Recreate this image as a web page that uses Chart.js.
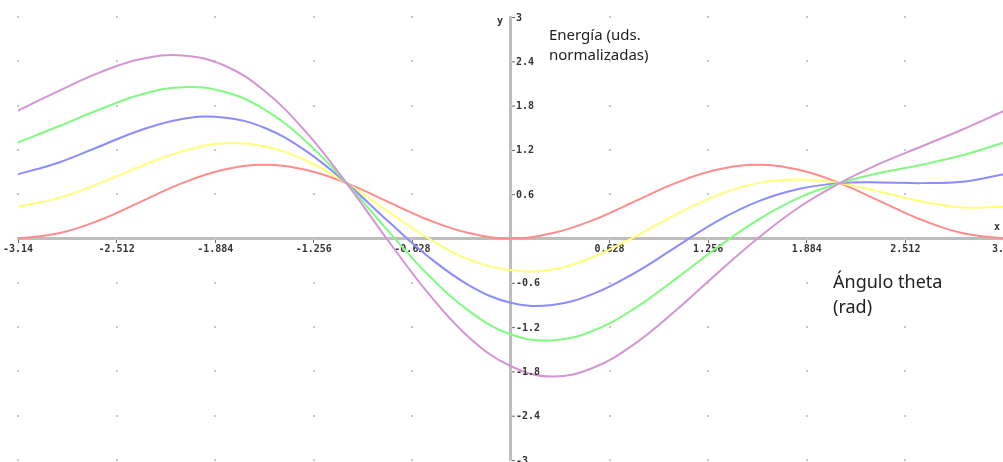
<!DOCTYPE html>
<html>
<head>
<meta charset="utf-8">
<script src="https://cdn.jsdelivr.net/npm/chart.js@4/dist/chart.umd.min.js"></script>
<style>
  html, body { margin: 0; padding: 0; background: #fff; }
  #wrap { position: relative; width: 1003px; height: 462px; overflow: hidden; }
  #energyPlot { position: absolute; left: 0; top: 0; }
  .note { position: absolute; color: #222; font-family: 'Noto Sans', sans-serif; line-height: 1.35; }
  .axisName { position: absolute; font: bold 10px 'DejaVu Sans Mono', monospace; color: #333; }
</style>
</head>
<body>
<div id="wrap">
  <canvas id="energyPlot" width="1018" height="462"></canvas>
  <div class="note" style="left:549px; top:24px; font-size:15px;">Energía (uds.<br>normalizadas)</div>
  <div class="note" style="left:833px; top:269px; font-size:18px; line-height:1.4;">Ángulo theta<br>(rad)</div>
  <div class="axisName" style="left:497px; top:15px;">y</div>
  <div class="axisName" style="left:994px; top:221px;">x</div>
</div>
<script>
// angle theta in rad, every 15 degrees
const theta = [-3.1416, -2.8798, -2.618, -2.3562, -2.0944, -1.8326, -1.5708, -1.309, -1.0472, -0.7854, -0.5236, -0.2618,
  0, 0.2618, 0.5236, 0.7854, 1.0472, 1.309, 1.5708, 1.8326, 2.0944, 2.3562, 2.618, 2.8798, 3.1416]

const redValues = [0, 0.07, 0.25, 0.5, 0.75, 0.93, 1, 0.93, 0.75, 0.5, 0.25, 0.07,
  0, 0.07, 0.25, 0.5, 0.75, 0.93, 1, 0.93, 0.75, 0.5, 0.25, 0.07, 0]
const yellowValues = [0.43, 0.55, 0.75, 0.98, 1.18, 1.29, 1.25, 1.06, 0.75, 0.37, 0, -0.29,
  -0.43, -0.42, -0.25, 0.02, 0.32, 0.58, 0.75, 0.8, 0.75, 0.63, 0.5, 0.42, 0.43]
const blueValues = [0.87, 1.03, 1.25, 1.47, 1.62, 1.64, 1.5, 1.19, 0.75, 0.24, -0.25, -0.64,
  -0.87, -0.9, -0.75, -0.47, -0.12, 0.23, 0.5, 0.67, 0.75, 0.76, 0.75, 0.77, 0.87]
const greenValues = [1.3, 1.52, 1.75, 1.95, 2.05, 1.99, 1.75, 1.32, 0.75, 0.11, -0.5, -0.99,
  -1.3, -1.38, -1.25, -0.95, -0.55, -0.13, 0.25, 0.55, 0.75, 0.89, 1.0, 1.13, 1.3]
const purpleValues = [1.73, 2.0, 2.25, 2.43, 2.48, 2.35, 2.0, 1.45, 0.75, -0.02, -0.75, -1.35,
  -1.73, -1.87, -1.75, -1.43, -0.98, -0.48, 0, 0.42, 0.75, 1.02, 1.25, 1.48, 1.73]

const xTicks = [-3.14, -2.512, -1.884, -1.256, -0.628, 0, 0.628, 1.256, 1.884, 2.512, 3.14]
const yTicks = [-3, -2.4, -1.8, -1.2, -0.6, 0, 0.6, 1.2, 1.8, 2.4, 3]

const toPoints = (values) => values.map((v, i) => ({x: theta[i], y: v}))

const line = (values, color) => ({
    data: toPoints(values),
    borderColor: color,
    borderWidth: 2,
    pointRadius: 0,
    fill: false,
    tension: 0.4
})

// dotted background grid, one dot per tick crossing
const dotGrid = {
    id: 'dotGrid',
    beforeDatasetsDraw(chart) {
        const {ctx, scales: {x, y}} = chart
        ctx.save()
        ctx.fillStyle = '#c8c8c8'
        xTicks.forEach(tx => {
            yTicks.forEach(ty => {
                ctx.fillRect(Math.round(x.getPixelForValue(tx)) - 1, Math.round(y.getPixelForValue(ty)) - 1, 2, 2)
            })
        })
        ctx.restore()
    }
}

// y labels sit on the right side of the centred axis
const yLabels = {
    id: 'yLabels',
    afterDraw(chart) {
        const {ctx, scales: {x, y}} = chart
        const x0 = x.getPixelForValue(0)
        ctx.save()
        ctx.font = 'bold 10px "DejaVu Sans Mono", monospace'
        ctx.textAlign = 'left'
        ctx.textBaseline = 'middle'
        yTicks.forEach(v => {
            if (v === 0) return
            const py = y.getPixelForValue(v)
            ctx.fillStyle = '#666'
            ctx.fillRect(x0 + 1, py, 3, 1)
            ctx.fillStyle = '#333'
            ctx.fillText(String(v), x0 + 5, py + 1)
        })
        ctx.restore()
    }
}

new Chart(document.getElementById('energyPlot'), {
    type: 'line',
    data: {
        datasets: [
            line(purpleValues, 'rgb(210, 150, 210)'),
            line(greenValues, 'rgb(130, 250, 130)'),
            line(blueValues, 'rgb(140, 140, 255)'),
            line(yellowValues, 'rgb(255, 255, 120)'),
            line(redValues, 'rgb(255, 140, 140)')
        ]
    },
    options: {
        responsive: false,
        animation: false,
        layout: {
            autoPadding: false,
            padding: {left: 18, right: 0, top: 17, bottom: 2}
        },
        plugins: {
            legend: {display: false},
            tooltip: {enabled: false}
        },
        scales: {
            x: {
                type: 'linear',
                min: -3.14,
                max: 3.14,
                position: {y: 0},
                afterBuildTicks: axis => { axis.ticks = xTicks.map(v => ({value: v})) },
                grid: {drawOnChartArea: false, drawTicks: true, tickLength: 3, color: '#666'},
                border: {color: '#bdbdbd', width: 3},
                ticks: {
                    padding: 2,
                    color: '#333',
                    font: {family: 'DejaVu Sans Mono', size: 10, weight: 'bold'},
                    maxRotation: 0,
                    autoSkip: false,
                    callback: v => v === 0 ? '' : String(v)
                }
            },
            y: {
                type: 'linear',
                min: -3,
                max: 3,
                position: {x: 0},
                afterBuildTicks: axis => { axis.ticks = yTicks.map(v => ({value: v})) },
                grid: {display: false},
                border: {color: '#bdbdbd', width: 3},
                ticks: {display: false}
            }
        }
    },
    plugins: [dotGrid, yLabels]
})
</script>
</body>
</html>
